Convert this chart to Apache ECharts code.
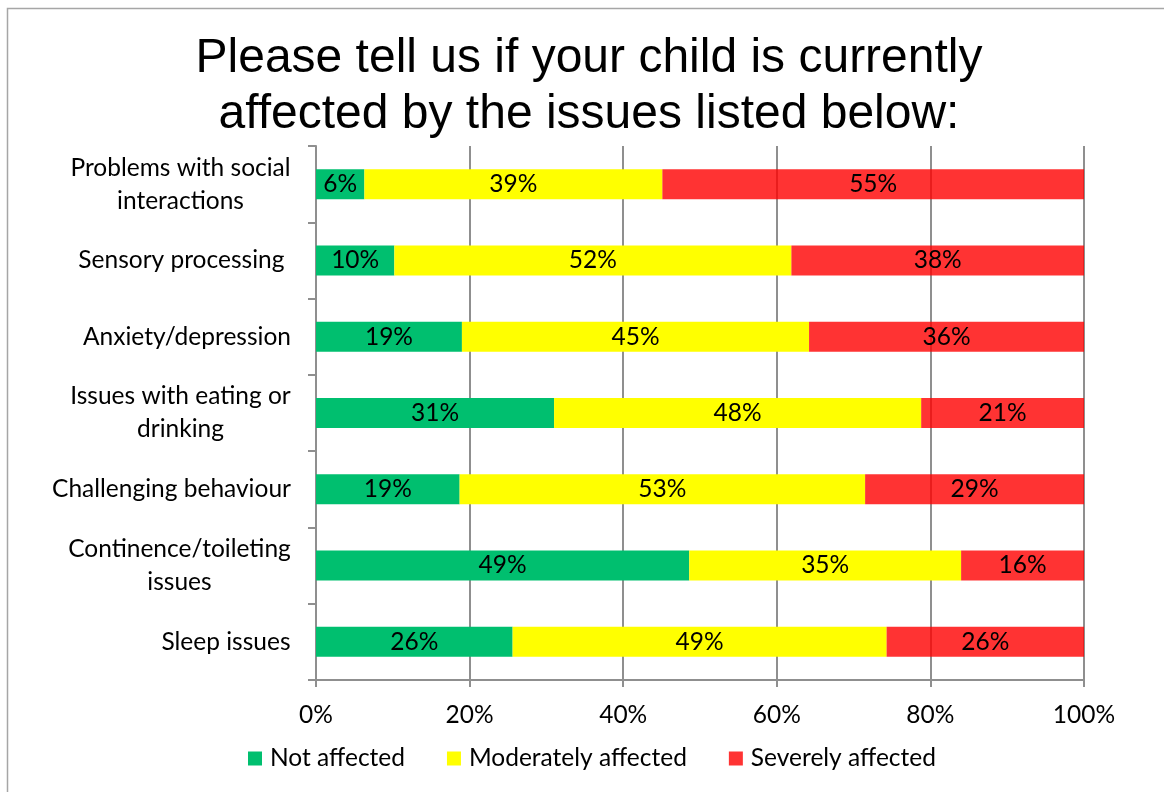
<!DOCTYPE html>
<html>
<head>
<meta charset="utf-8">
<script src="https://cdn.jsdelivr.net/npm/echarts@6/dist/echarts.min.js"></script>
<style>
  html, body { margin: 0; padding: 0; background: #fff; }
  #chart { width: 1164px; height: 792px; }
</style>
</head>
<body>
<div id="chart"></div>
<script>
// Survey answers, share of respondents (%) per issue
const categories = [
  'Problems with social\ninteractions',
  'Sensory processing ',
  'Anxiety/depression',
  'Issues with eating or\ndrinking',
  'Challenging behaviour',
  'Continence/toileting\nissues',
  'Sleep issues'
];
const notAffected        = [6.3, 10.2, 19.0, 31.0, 18.7, 48.6, 25.6];
const moderatelyAffected = [38.8, 51.7, 45.2, 47.8, 52.8, 35.4, 48.7];
const severelyAffected   = [54.9, 38.1, 35.8, 21.2, 28.5, 16.0, 25.7];
const seriesNames = ['Not affected', 'Moderately affected', 'Severely affected'];
const xTicks = [0, 20, 40, 60, 80, 100];

const FONT = 'Lato';
const FS = 24.5;
const GRAY = '#8f8f8f';

// Measure each category's widest line so multi-line labels can be centred line by line
const measureCtx = document.createElement('canvas').getContext('2d');
measureCtx.font = FS + 'px ' + FONT;
const rich = {};
categories.forEach((c, i) => {
  const w = Math.max(...c.split('\n').map(l => measureCtx.measureText(l).width));
  rich['c' + i] = { width: Math.ceil(w), align: 'center', fontSize: FS, fontFamily: FONT, color: '#000', lineHeight: 33 };
});

const chart = echarts.init(document.getElementById('chart'));

const labelCfg = {
  show: true,
  position: 'inside',
  color: '#000',
  fontFamily: FONT,
  fontSize: FS,
  formatter: p => Math.round(p.value) + '%'
};

function barSeries(name, data, color) {
  return {
    name, type: 'bar', stack: 'total', data,
    barWidth: 30,
    itemStyle: { color },
    label: labelCfg,
    emphasis: { disabled: true }
  };
}

chart.setOption({
  animation: false,
  backgroundColor: '#fff',
  title: {
    text: 'Please tell us if your child is currently\naffected by the issues listed below:',
    left: 584,
    top: 26,
    textAlign: 'center',
    textStyle: {
      fontFamily: 'Liberation Sans',
      fontSize: 48,
      fontWeight: 'normal',
      color: '#000',
      lineHeight: 56
    }
  },
  legend: {
    data: seriesNames,
    left: 243,
    top: 741,
    icon: 'rect',
    itemWidth: 14,
    itemHeight: 14,
    itemGap: 42,
    textStyle: { fontFamily: FONT, fontSize: FS, color: '#000', padding: [0, 0, 0, 3] }
  },
  grid: { left: 316, right: 80, top: 146, bottom: 112, containLabel: false },
  xAxis: {
    type: 'value',
    min: xTicks[0],
    max: xTicks[xTicks.length - 1],
    interval: 20,
    axisLine: { show: true, lineStyle: { color: GRAY, width: 2 } },
    axisTick: { show: true, length: 7, lineStyle: { color: GRAY, width: 2 } },
    splitLine: { show: true, lineStyle: { color: GRAY, width: 2 } },
    axisLabel: {
      formatter: '{value}%',
      margin: 23,
      color: '#000',
      fontFamily: FONT,
      fontSize: FS
    }
  },
  yAxis: {
    type: 'category',
    inverse: true,
    data: categories,
    axisLine: { show: true, lineStyle: { color: GRAY, width: 2 } },
    axisTick: { show: true, length: 8, lineStyle: { color: GRAY, width: 2 } },
    axisLabel: {
      margin: 25,
      formatter: (v, i) => v.split('\n').map(l => '{c' + i + '|' + l + '}').join('\n'),
      rich
    }
  },
  series: [
    barSeries(seriesNames[0], notAffected, '#00BF6F'),
    barSeries(seriesNames[1], moderatelyAffected, '#FFFF00'),
    barSeries(seriesNames[2], severelyAffected, 'rgba(255,0,0,0.8)')
  ],
  graphic: [{
    type: 'rect',
    silent: true,
    shape: { x: 7.5, y: 8.5, width: 1200, height: 900 },
    style: { fill: 'none', stroke: '#a6a6a6', lineWidth: 1.5 }
  }]
});
</script>
</body>
</html>
